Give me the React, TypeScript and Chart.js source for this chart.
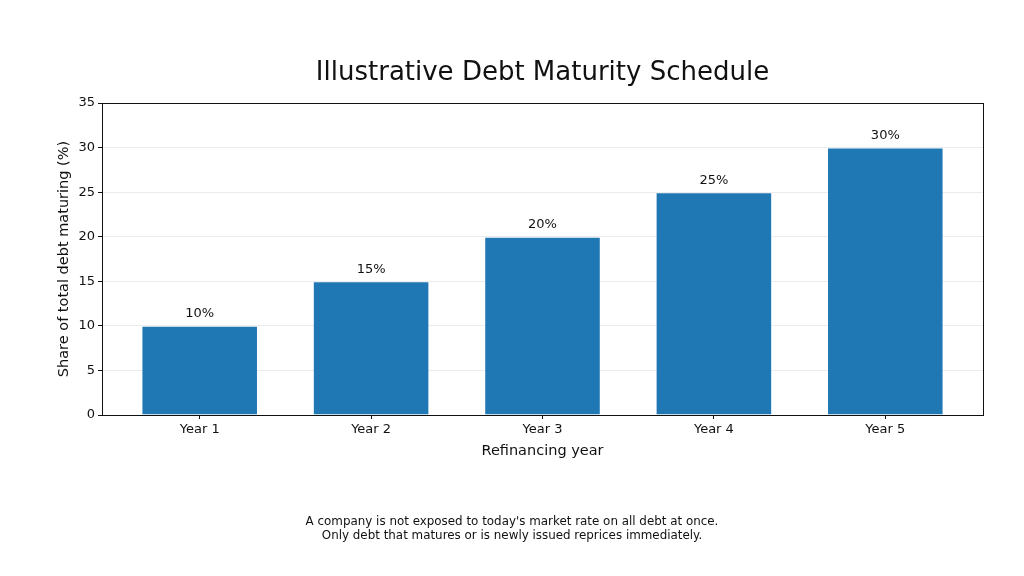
import { useEffect, useRef } from "react";
import { Chart, registerables, type Plugin } from "chart.js";

Chart.register(...registerables);

const years = ["Year 1", "Year 2", "Year 3", "Year 4", "Year 5"];
const shares = [10, 15, 20, 25, 30];
const chartTitle = "Illustrative Debt Maturity Schedule";
const xTitle = "Refinancing year";
const yTitle = "Share of total debt maturing (%)";
const footnote = [
  "A company is not exposed to today's market rate on all debt at once.",
  "Only debt that matures or is newly issued reprices immediately.",
];

const FONT = "'DejaVu Sans', sans-serif";
const INK = "#111";

// title, value labels, box frame and footnote
const extras: Plugin<"bar"> = {
  id: "extras",
  afterDraw(chart) {
    const { ctx, chartArea } = chart;
    ctx.save();
    ctx.strokeStyle = INK;
    ctx.lineWidth = 1;
    ctx.strokeRect(
      Math.round(chartArea.left) + 0.5,
      Math.round(chartArea.top) + 0.5,
      Math.round(chartArea.right - chartArea.left),
      Math.round(chartArea.bottom - chartArea.top)
    );

    ctx.fillStyle = INK;
    ctx.textAlign = "center";
    ctx.textBaseline = "middle";

    ctx.font = `13px ${FONT}`;
    const meta = chart.getDatasetMeta(0);
    meta.data.forEach((bar, i) => {
      ctx.fillText(`${shares[i]}%`, bar.x, bar.y - 12);
    });

    ctx.font = `26px ${FONT}`;
    ctx.fillText(chartTitle, (chartArea.left + chartArea.right) / 2, 73);

    ctx.font = `11.9px ${FONT}`;
    footnote.forEach((line, i) => ctx.fillText(line, 512, 522 + i * 13.5));
    ctx.restore();
  },
};

export default function App() {
  const canvasRef = useRef<HTMLCanvasElement>(null);
  const chartRef = useRef<Chart | null>(null);

  useEffect(() => {
    document.body.style.margin = "0";
    if (!canvasRef.current) return;
    chartRef.current?.destroy();

    chartRef.current = new Chart(canvasRef.current, {
      type: "bar",
      data: {
        datasets: [
          {
            data: shares.map((v, i) => ({ x: i, y: v })),
            backgroundColor: "#1f77b4",
            borderColor: "rgba(255,255,255,0.15)",
            borderWidth: 1,
            categoryPercentage: 1,
            barPercentage: 0.68,
          },
        ],
      },
      options: {
        animation: false,
        responsive: true,
        maintainAspectRatio: false,
        layout: { padding: { top: 103, right: 41, bottom: 111, left: 0 } },
        plugins: {
          legend: { display: false },
          tooltip: { enabled: false },
        },
        scales: {
          x: {
            type: "linear",
            min: -0.57,
            max: 4.57,
            offset: false,
            afterBuildTicks: (s) => {
              s.ticks = years.map((_, i) => ({ value: i }));
            },
            afterFit: (s) => {
              s.height = 50;
            },
            grid: { display: true, offset: false, drawOnChartArea: false, tickLength: 4, tickColor: INK },
            border: { color: INK },
            ticks: {
              callback: (v) => years[Number(v)],
              color: INK,
              font: { family: FONT, size: 13 },
              padding: 3,
              maxRotation: 0,
              autoSkip: false,
            },
            title: {
              display: true,
              text: xTitle,
              color: INK,
              font: { family: FONT, size: 14.5 },
              padding: { top: 0, bottom: 5 },
            },
          },
          y: {
            min: 0,
            max: 35,
            z: 1,
            afterFit: (s) => {
              s.width = 102;
            },
            grid: { color: "rgba(176,176,176,0.25)", tickLength: 4, tickColor: INK },
            border: { color: INK },
            ticks: {
              stepSize: 5,
              color: INK,
              font: { family: FONT, size: 13 },
              padding: 3,
            },
            title: {
              display: true,
              text: yTitle,
              color: INK,
              font: { family: FONT, size: 14.5 },
              padding: { top: 56, bottom: 0 },
            },
          },
        },
      },
      plugins: [extras],
    });

    return () => {
      chartRef.current?.destroy();
      chartRef.current = null;
    };
  }, []);

  return (
    <div style={{ width: "1024px", height: "576px", position: "relative" }}>
      <canvas ref={canvasRef} />
    </div>
  );
}
